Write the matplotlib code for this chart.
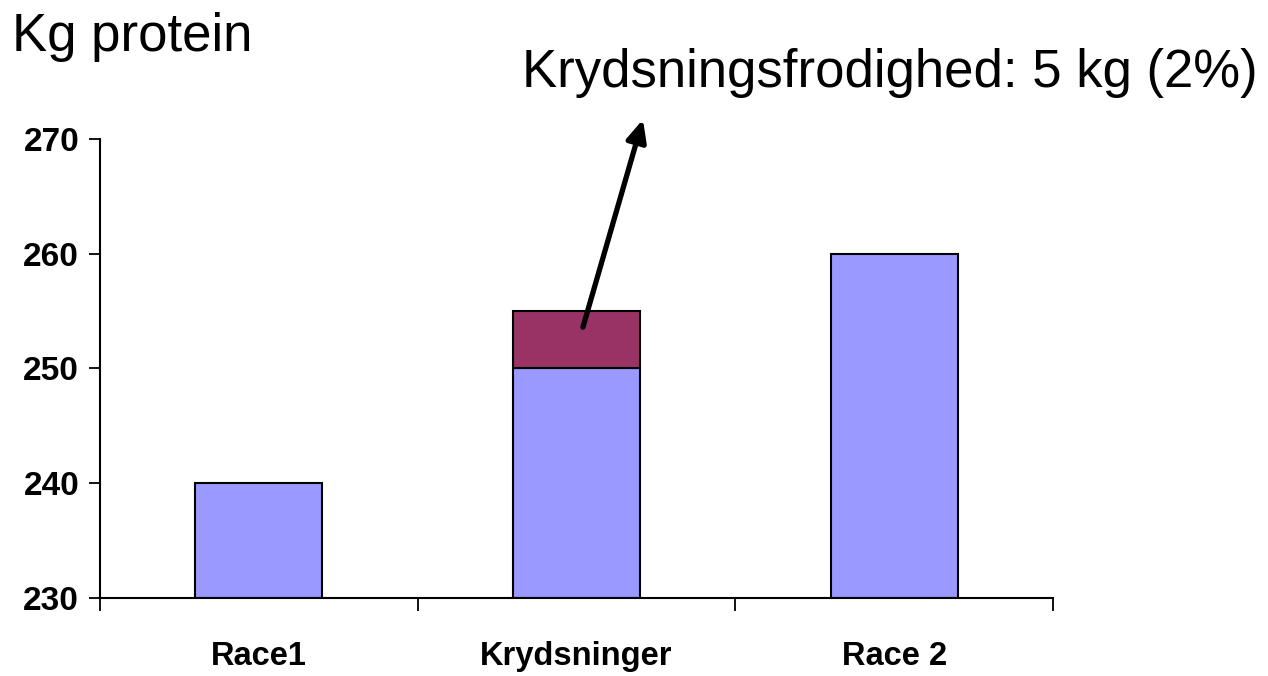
import matplotlib
matplotlib.use("Agg")
import matplotlib.pyplot as plt
import numpy as np

plt.rcParams['font.family'] = ['Liberation Sans', 'DejaVu Sans']

# data
categories = ['Race1', 'Krydsninger', 'Race 2']
base_values = [240, 250, 260]
heterosis = [0, 5, 0]
y_ticks = [230, 240, 250, 260, 270]

fig = plt.figure(figsize=(12.68, 6.76), dpi=100)
ax = fig.add_axes([0.0789, 0.1154, 0.7516, 0.679])

x = np.arange(len(categories))
ymin = y_ticks[0]
ax.bar(x, np.array(base_values) - ymin, bottom=ymin, width=0.4,
       color='#9999FF', edgecolor='black', linewidth=1.5, zorder=2)
# only the crossbred bar gets the stacked part
idx = [i for i, h in enumerate(heterosis) if h > 0]
ax.bar(x[idx], [heterosis[i] for i in idx],
       bottom=[base_values[i] for i in idx], width=0.4,
       color='#993366', edgecolor='black', linewidth=1.5, zorder=2)

ax.set_xlim(-0.5, 2.5)
ax.set_ylim(y_ticks[0], y_ticks[-1])

# x: boundary ticks without labels, category names as minor ticks
ax.set_xticks(np.arange(-0.5, len(categories), 1.0))
ax.set_xticklabels([])
ax.set_xticks(x, minor=True)
ax.set_xticklabels(categories, minor=True, fontsize=23.5, fontweight='bold')
ax.tick_params(axis='x', which='major', direction='out', length=9, width=1.3)
ax.tick_params(axis='x', which='minor', length=0, pad=31)

ax.set_yticks(y_ticks)
ax.set_yticklabels([str(v) for v in y_ticks], fontsize=24, fontweight='bold')
ax.tick_params(axis='y', direction='out', length=8, width=1.3, pad=7)

for s in ['top', 'right']:
    ax.spines[s].set_visible(False)
for s in ['left', 'bottom']:
    ax.spines[s].set_linewidth(1.5)

fig.text(0.0095, 1 - 51 / 676, 'Kg protein', fontsize=38, va='baseline', ha='left')
fig.text(0.4117, 1 - 87 / 676, 'Krydsningsfrodighed: 5 kg (2%)', fontsize=38,
         va='baseline', ha='left')

# arrow from the heterosis block up to the text
ax.annotate('', xy=(1.209, 271.7), xytext=(1.02, 253.6),
            xycoords='data', textcoords='data', annotation_clip=False,
            arrowprops=dict(arrowstyle='-|>,head_length=1.3,head_width=0.6',
                            lw=3.8, color='black', shrinkA=0, shrinkB=0))

fig.savefig('out.png', dpi=100)
